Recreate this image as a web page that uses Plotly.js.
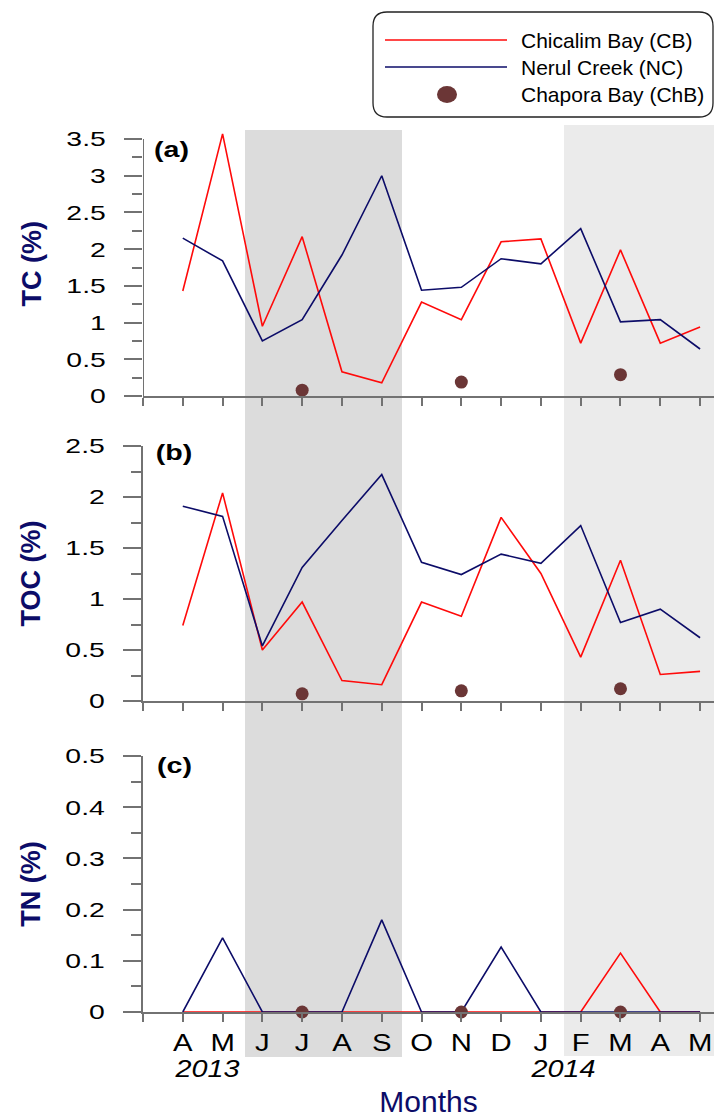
<!DOCTYPE html>
<html>
<head>
<meta charset="utf-8">
<script src="https://cdn.plot.ly/plotly-3.0.1.min.js"></script>
<style>html,body{margin:0;padding:0;background:#fff;}#chart{width:714px;height:1118px;}</style>
</head>
<body>
<div id="chart"></div>
<script>
// ---- data ----
const monthIdx = [0,1,2,3,4,5,6,7,8,9,10,11,12,13];
const monthLabels = ['A','M','J','J','A','S','O','N','D','J','F','M','A','M'];
const tickPositions = [-1,0,1,2,3,4,5,6,7,8,9,10,11,12,13];
const tickText = ['','A','M','J','J','A','S','O','N','D','J','F','M','A','M'];

const tcCB  = [1.43,3.57,0.95,2.17,0.33,0.18,1.28,1.04,2.10,2.14,0.72,1.99,0.72,0.94];
const tcNC  = [2.15,1.84,0.75,1.04,1.92,3.00,1.44,1.48,1.87,1.80,2.28,1.01,1.04,0.64];
const tocCB = [0.74,2.04,0.50,0.97,0.20,0.16,0.97,0.83,1.80,1.25,0.43,1.38,0.26,0.29];
const tocNC = [1.91,1.81,0.54,1.31,1.77,2.22,1.36,1.24,1.44,1.35,1.72,0.77,0.90,0.62];
const tnCB  = [0,0,0,0,0,0,0,0,0,0,0,0.115,0,0];
const tnNC  = [0,0.145,0,0,0,0.18,0,0,0.127,0,0,0,0,0];

const chbIdx = [3,7,11];
const chbTC  = [0.08,0.19,0.29];
const chbTOC = [0.07,0.10,0.12];
const chbTN  = [0,0,0];

const seriesNames = ['Chicalim Bay (CB)','Nerul Creek (NC)','Chapora Bay (ChB)'];
const yearLabels = ['2013','2014'];
const panelLabels = ['(a)','(b)','(c)'];
const yTitles = ['TC (%)','TOC (%)','TN (%)'];

// ---- style ----
const W = 714, H = 1118;
const X = px => px / W;
const Y = py => 1 - py / H;
const RED = '#ff0a0a', NAVY = '#0c0c68', BROWN = '#6b3636', AX = '#727272';
const FONT = 'Liberation Sans, Arial, sans-serif';

function lineTrace(x, y, color, xa, ya, name) {
  return {x, y, type:'scatter', mode:'lines', name, showlegend:false,
    line:{color, width:1.6}, xaxis:xa, yaxis:ya, hoverinfo:'skip'};
}
function dotTrace(x, y, xa, ya) {
  return {x, y, type:'scatter', mode:'markers', name:seriesNames[2], showlegend:false,
    marker:{color:BROWN, size:13}, xaxis:xa, yaxis:ya, cliponaxis:false, hoverinfo:'skip'};
}

const data = [
  lineTrace(monthIdx, tcCB, RED, 'x', 'y', seriesNames[0]),
  lineTrace(monthIdx, tcNC, NAVY, 'x', 'y', seriesNames[1]),
  dotTrace(chbIdx, chbTC, 'x', 'y'),
  lineTrace(monthIdx, tocCB, RED, 'x2', 'y2', seriesNames[0]),
  lineTrace(monthIdx, tocNC, NAVY, 'x2', 'y2', seriesNames[1]),
  dotTrace(chbIdx, chbTOC, 'x2', 'y2'),
  lineTrace(monthIdx, tnCB, RED, 'x3', 'y3', seriesNames[0]),
  lineTrace(monthIdx, tnNC, NAVY, 'x3', 'y3', seriesNames[1]),
  dotTrace(chbIdx, chbTN, 'x3', 'y3'),
];

const xRange = [-1, 13.35];
function xAxis(anchor, labels) {
  return {domain:[X(143),1], range:xRange, anchor, showgrid:false, zeroline:false,
    showline:true, linecolor:AX, linewidth:2, ticks:'outside', ticklen:8, tickwidth:2, tickcolor:AX,
    tickmode:'array', tickvals:tickPositions, ticktext:tickText, showticklabels:labels,
    tickfont:{family:FONT, size:24, color:'#000'}};
}
function yAxis(anchor, domain, range, dtick, minor, title, showline) {
  return {domain, range, anchor, showgrid:false, zeroline:false,
    showline, linecolor:AX, linewidth:2, ticks:'outside', ticklen:18, tickwidth:2, tickcolor:AX,
    tick0:0, dtick, ticklabelstandoff:14,
    minor:{dtick:minor, tick0:0, ticks:'outside', ticklen:10, tickwidth:2, tickcolor:AX, showgrid:false},
    tickfont:{family:FONT, size:21, color:'#000'},
    title:{text:'<b>'+title+'</b>', font:{family:FONT, size:27, color:NAVY}, standoff:27}};
}

const layout = {
  width:W, height:H, margin:{l:0,r:0,t:0,b:0},
  paper_bgcolor:'#fff', plot_bgcolor:'rgba(0,0,0,0)', showlegend:false,
  xaxis: xAxis('y', false),
  xaxis2: xAxis('y2', false),
  xaxis3: Object.assign(xAxis('y3', true), {title:{text:'Months', font:{family:FONT, size:30, color:NAVY}, standoff:46}}),
  yaxis: yAxis('x', [Y(396), Y(131.7)], [0,3.6], 0.5, 0.25, yTitles[0], false),
  yaxis2: yAxis('x2', [Y(701), Y(446)], [0,2.5], 0.5, 0.25, yTitles[1], true),
  yaxis3: yAxis('x3', [Y(1012), Y(756)], [0,0.5], 0.1, 0.05, yTitles[2], true),
  shapes: [
    {type:'rect', layer:'below', xref:'x', yref:'paper', x0:1.563, x1:5.509, y0:Y(1057), y1:Y(130), fillcolor:'#dcdcdc', line:{width:0}},
    {type:'rect', layer:'below', xref:'x', yref:'paper', x0:9.581, x1:13.35, y0:Y(1056), y1:Y(125), fillcolor:'#ebebeb', line:{width:0}},
    {type:'line', xref:'x', yref:'y', x0:-1, x1:-1, y0:0, y1:3.5, line:{color:AX, width:2}},
    // legend box
    {type:'path', xref:'paper', yref:'paper', line:{color:'#222', width:1.3}, fillcolor:'rgba(255,255,255,0)',
     path:(function(){const x0=373,x1=713,y0=12,y1=117,r=14;
       return 'M'+X(x0+r)+','+Y(y0)+' L'+X(x1-r)+','+Y(y0)+' Q'+X(x1)+','+Y(y0)+' '+X(x1)+','+Y(y0+r)+
       ' L'+X(x1)+','+Y(y1-r)+' Q'+X(x1)+','+Y(y1)+' '+X(x1-r)+','+Y(y1)+
       ' L'+X(x0+r)+','+Y(y1)+' Q'+X(x0)+','+Y(y1)+' '+X(x0)+','+Y(y1-r)+
       ' L'+X(x0)+','+Y(y0+r)+' Q'+X(x0)+','+Y(y0)+' '+X(x0+r)+','+Y(y0)+' Z';})()},
    {type:'line', xref:'paper', yref:'paper', x0:X(385), x1:X(507), y0:Y(40), y1:Y(40), line:{color:RED, width:1.6}},
    {type:'line', xref:'paper', yref:'paper', x0:X(385), x1:X(507), y0:Y(67), y1:Y(67), line:{color:NAVY, width:1.6}},
    {type:'circle', xref:'paper', yref:'paper', x0:X(437), x1:X(457), y0:Y(103), y1:Y(86), fillcolor:BROWN, line:{width:0}},
  ],
  annotations: [
    {text:'<b>'+panelLabels[0]+'</b>', xref:'paper', yref:'paper', x:X(171), y:Y(149), xanchor:'center', yanchor:'middle', showarrow:false, font:{family:FONT, size:22, color:'#000'}},
    {text:'<b>'+panelLabels[1]+'</b>', xref:'paper', yref:'paper', x:X(174), y:Y(453), xanchor:'center', yanchor:'middle', showarrow:false, font:{family:FONT, size:22, color:'#000'}},
    {text:'<b>'+panelLabels[2]+'</b>', xref:'paper', yref:'paper', x:X(174), y:Y(765), xanchor:'center', yanchor:'middle', showarrow:false, font:{family:FONT, size:22, color:'#000'}},
    {text:'<i>'+yearLabels[0]+'</i>', xref:'paper', yref:'paper', x:X(207), y:Y(1069), xanchor:'center', yanchor:'middle', showarrow:false, font:{family:FONT, size:23, color:'#000'}},
    {text:'<i>'+yearLabels[1]+'</i>', xref:'paper', yref:'paper', x:X(563), y:Y(1069), xanchor:'center', yanchor:'middle', showarrow:false, font:{family:FONT, size:23, color:'#000'}},
    {text:seriesNames[0], xref:'paper', yref:'paper', x:X(519), y:Y(40), xanchor:'left', yanchor:'middle', showarrow:false, font:{family:FONT, size:21, color:'#000'}},
    {text:seriesNames[1], xref:'paper', yref:'paper', x:X(519), y:Y(67), xanchor:'left', yanchor:'middle', showarrow:false, font:{family:FONT, size:21, color:'#000'}},
    {text:seriesNames[2], xref:'paper', yref:'paper', x:X(519), y:Y(94), xanchor:'left', yanchor:'middle', showarrow:false, font:{family:FONT, size:21, color:'#000'}},
  ]
};

Plotly.newPlot('chart', data, layout, {staticPlot:true, displayModeBar:false}).then(function(gd){
  // the source figure's labels are drawn horizontally widened; reproduce that with textLength
  function widen(el, f){
    try {
      const L = el.getComputedTextLength();
      if (L > 0) { el.setAttribute('textLength', (L*f).toFixed(2)); el.setAttribute('lengthAdjust','spacingAndGlyphs'); }
    } catch(e) {}
  }
  gd.querySelectorAll('.ytick text, .y2tick text, .y3tick text').forEach(t => widen(t, 1.35));
  gd.querySelectorAll('.x3tick text').forEach(t => widen(t, 1.22));
  gd.querySelectorAll('g.annotation').forEach(g => {
    const i = +g.getAttribute('data-index');
    if (i <= 2) { const t = g.querySelector('text.annotation-text'); if (t) widen(t, 1.3); }
    else if (i <= 4) { const t = g.querySelector('text.annotation-text'); if (t) widen(t, 1.25); }
  });
});
</script>
</body>
</html>
